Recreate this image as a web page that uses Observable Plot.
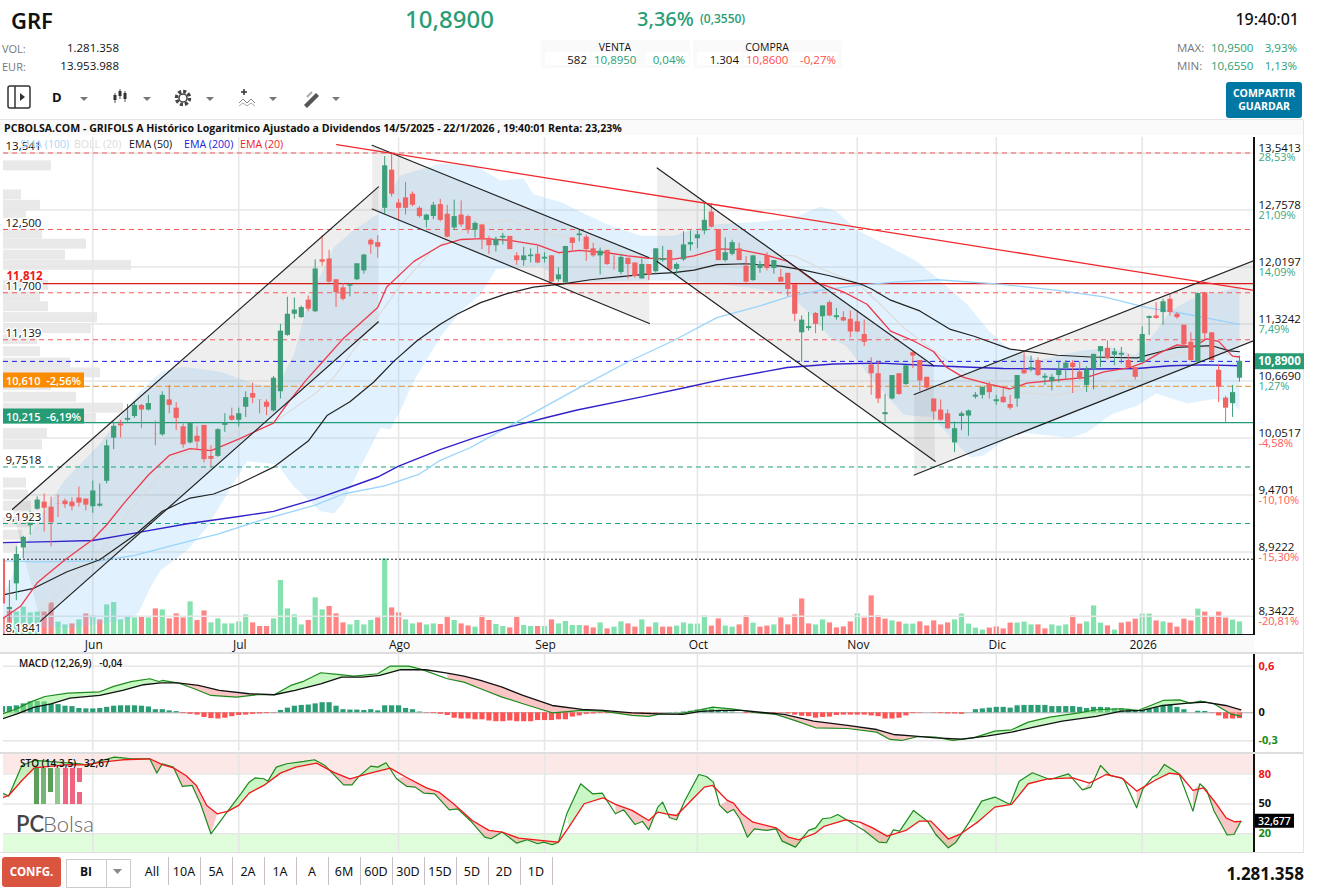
<!DOCTYPE html>
<html lang="es">
<head>
<meta charset="utf-8">
<title>GRF</title>
<script src="https://cdn.jsdelivr.net/npm/d3@7"></script>
<script src="https://cdn.jsdelivr.net/npm/@observablehq/plot@0.6"></script>
<style>
html,body{margin:0;padding:0;background:#fff;width:1317px;height:893px;overflow:hidden;font-family:"Open Sans",sans-serif;}
#root{position:relative;width:1317px;height:893px;overflow:hidden;}
.t{position:absolute;white-space:pre;line-height:1;}
.b{position:absolute;}
svg{position:absolute;left:0;}
</style>
</head>
<body>
<div id="root"></div>
<script>
// ---------- candle data (o,h,l,c, bar by bar) ----------
const opens=[8.85,8.40,8.63,8.96,9.17,9.33,9.40,9.35,9.38,9.41,9.40,9.44,9.43,9.355,9.36,9.607,10.05,10.20,10.24,10.28,10.40,10.35,10.09,10.085,10.46,10.37,10.17,10.00,10.07,10.185,9.86,9.86,10.185,10.285,10.24,10.38,10.53,10.46,10.435,10.34,10.55,11.19,11.44,11.40,11.61,11.47,12.11,12.12,11.86,11.76,11.78,11.86,11.97,12.36,12.33,12.78,13.30,12.85,12.92,12.97,12.78,12.62,12.67,12.83,12.70,12.52,12.69,12.67,12.49,12.56,12.38,12.29,12.39,12.41,12.16,12.10,12.15,12.18,12.12,12.16,11.86,11.82,12.39,12.42,12.40,12.25,12.16,12.23,12.06,11.95,12.13,12.07,11.87,12.05,11.96,12.10,12.23,11.99,12.11,12.30,12.38,12.48,12.73,12.50,12.10,12.18,12.25,12.03,11.85,12.00,12.16,12.00,11.89,11.94,11.80,11.22,11.27,11.45,11.41,11.58,11.40,11.40,11.38,11.35,11.20,10.85,10.75,10.30,10.47,10.75,10.63,10.99,10.90,10.71,10.47,10.35,10.31,10.00,10.28,10.285,10.49,10.51,10.63,10.44,10.49,10.41,10.47,10.79,10.80,10.90,10.70,10.66,10.73,10.81,10.87,10.77,10.62,10.80,11.00,11.04,10.96,10.96,10.90,10.82,10.88,11.39,11.42,11.46,11.62,11.44,11.31,11.11,10.88,11.70,11.22,10.79,10.48,10.42,10.70];
const highs=[8.85,8.66,8.97,9.07,9.31,9.45,9.48,9.45,9.47,9.43,9.44,9.55,9.43,9.61,9.58,10.03,10.22,10.24,10.41,10.44,10.41,10.51,10.23,10.55,10.62,10.43,10.20,10.21,10.17,10.185,9.97,10.15,10.31,10.37,10.37,10.55,10.645,10.46,10.46,10.72,11.32,11.645,11.635,11.54,11.66,12.11,12.42,12.23,11.86,11.81,11.81,12.06,12.18,12.38,12.42,13.49,13.52,12.90,13.13,13.00,12.80,12.70,12.86,12.90,12.82,12.89,12.88,12.69,12.60,12.56,12.41,12.40,12.45,12.41,12.20,12.27,12.25,12.28,12.20,12.16,12.01,12.28,12.39,12.50,12.43,12.32,12.26,12.23,12.16,12.18,12.13,12.07,12.12,12.05,12.25,12.28,12.23,12.07,12.47,12.48,12.48,12.84,12.84,12.50,12.39,12.36,12.32,12.15,12.16,12.09,12.20,12.10,11.99,11.94,11.80,11.42,11.46,11.46,11.54,11.60,11.51,11.47,11.48,11.48,11.37,10.93,10.89,10.52,10.73,10.75,10.84,11.00,10.90,10.71,10.47,10.46,10.35,10.22,10.33,10.35,10.54,10.60,10.655,10.51,10.58,10.51,10.73,10.99,10.95,10.93,10.75,10.74,10.88,10.90,10.90,10.88,10.83,10.97,11.06,11.13,11.04,11.05,10.97,10.82,11.29,11.42,11.58,11.62,11.68,11.46,11.31,11.22,11.70,11.70,11.22,10.85,10.50,10.62,10.95];
const lows=[8.20,8.25,8.48,8.86,9.08,9.32,9.11,8.97,9.25,9.34,9.315,9.35,9.315,9.29,9.35,9.58,9.93,10.05,10.22,10.26,10.15,10.34,9.97,10.07,10.31,10.13,9.945,9.99,9.92,9.795,9.75,9.85,10.11,10.23,10.17,10.27,10.42,10.31,10.29,10.33,10.47,11.18,11.38,11.39,11.47,11.46,12.03,11.82,11.52,11.60,11.65,11.85,11.93,12.18,12.13,12.70,12.93,12.62,12.69,12.80,12.65,12.52,12.63,12.60,12.39,12.49,12.53,12.44,12.39,12.24,12.18,12.21,12.30,12.24,12.04,12.03,12.07,12.06,12.07,11.83,11.83,11.82,12.23,12.34,12.09,12.14,11.92,12.04,11.98,11.92,11.87,11.88,11.87,11.85,11.92,12.08,11.97,11.92,12.09,12.22,12.25,12.43,12.52,12.10,12.08,12.16,12.10,11.82,11.84,11.94,11.97,11.93,11.83,11.65,11.35,10.88,11.24,11.21,11.24,11.41,11.37,11.35,11.16,11.22,11.06,10.51,10.42,10.22,10.46,10.51,10.62,10.81,10.55,10.58,10.24,10.23,10.14,9.90,10.13,10.07,10.47,10.47,10.47,10.40,10.42,10.35,10.38,10.74,10.77,10.72,10.62,10.56,10.65,10.69,10.53,10.68,10.54,10.57,10.82,10.91,10.84,10.86,10.81,10.68,10.87,11.19,11.38,11.31,11.42,11.38,11.06,10.89,10.87,11.14,10.89,10.43,10.21,10.27,10.655];
const closes=[8.45,8.42,8.90,9.06,9.20,9.42,9.34,9.20,9.37,9.375,9.355,9.39,9.37,9.51,9.38,9.97,10.175,10.18,10.26,10.40,10.35,10.42,10.08,10.51,10.40,10.26,9.98,10.21,10.01,9.827,9.83,10.14,10.21,10.24,10.31,10.485,10.48,10.45,10.38,10.70,11.24,11.44,11.49,11.52,11.50,11.995,12.08,11.83,11.70,11.62,11.80,12.06,12.17,12.30,12.27,13.36,12.97,12.78,12.78,12.82,12.67,12.69,12.82,12.62,12.40,12.67,12.56,12.49,12.58,12.37,12.29,12.37,12.40,12.24,12.10,12.16,12.17,12.07,12.13,11.83,11.92,12.28,12.32,12.43,12.24,12.16,12.22,12.05,12.05,12.14,12.05,11.90,12.05,11.92,12.25,12.11,11.98,12.05,12.30,12.33,12.43,12.62,12.53,12.10,12.20,12.33,12.10,11.83,12.16,12.05,12.00,12.10,11.83,11.74,11.44,11.37,11.28,11.32,11.54,11.42,11.41,11.36,11.23,11.23,11.11,10.75,10.47,10.31,10.73,10.52,10.84,10.95,10.67,10.59,10.33,10.24,10.15,10.15,10.31,10.34,10.50,10.60,10.54,10.45,10.43,10.37,10.73,10.75,10.82,10.73,10.71,10.71,10.79,10.87,10.82,10.69,10.79,10.97,11.06,10.92,11.00,10.97,10.82,10.71,11.20,11.40,11.39,11.59,11.46,11.40,11.08,10.90,11.69,11.21,10.90,10.60,10.37,10.54,10.89];
// volumes in thousands
const volumes=[870,1170,1120,1370,1080,1120,1120,1580,620,480,530,730,1030,930,730,1480,1600,730,900,830,900,830,1280,1230,780,1030,830,1630,700,1180,580,780,530,530,630,980,580,400,400,780,2700,1280,980,480,700,1830,1230,1400,1030,580,480,700,480,700,830,3780,1330,1080,730,530,580,480,530,500,900,700,530,430,370,930,700,500,400,330,900,450,400,400,400,730,530,650,450,450,430,330,580,280,370,630,530,370,730,370,580,370,370,420,580,520,520,930,420,780,420,370,480,930,570,370,420,480,830,480,980,1780,530,480,730,580,330,380,630,1030,820,1930,930,770,680,620,520,520,630,430,680,480,580,730,1020,520,320,220,320,380,280,570,570,620,480,480,280,480,420,480,930,520,630,1430,570,430,220,570,620,770,1020,1020,680,630,570,370,770,680,1270,1120,880,1120,820,720,630];

// ---------- overlays: [bar index, price] ----------
const ema20=[[0,8.32],[2.6,8.43],[5,8.64],[9,8.85],[13,9.04],[15,9.18],[17.5,9.39],[21,9.67],[24,9.87],[27,9.94],[30,9.92],[34,10.04],[39,10.21],[41,10.42],[43.6,10.67],[46,10.88],[49,11.15],[54,11.52],[55.3,11.77],[59.2,12.09],[63,12.29],[66,12.37],[69,12.38],[73,12.36],[77,12.30],[80,12.20],[83,12.23],[87,12.20],[90,12.16],[93,12.13],[96.6,12.12],[99.5,12.16],[103,12.25],[106,12.24],[109.5,12.18],[113,12.09],[117,11.83],[121,11.71],[124.4,11.56],[126.3,11.38],[127.8,11.24],[131,11.13],[134,11.0],[135.7,10.83],[138.3,10.71],[141.7,10.64],[145,10.58],[147.4,10.645],[151.8,10.68],[156,10.71],[158.5,10.77],[162.2,10.82],[164,10.87],[166.6,10.99],[169,11.08],[171.4,11.06],[173.3,11.15],[175,11.12],[177,10.95],[178,10.94]];
const ema50=[[0,8.53],[4.5,8.59],[9.3,8.74],[14,8.85],[19,9.08],[23,9.31],[27,9.44],[30.4,9.48],[34,9.58],[39,9.75],[44,10.02],[46.7,10.29],[50,10.44],[53.4,10.655],[56.3,10.89],[59.7,11.13],[63,11.32],[65.4,11.44],[68.8,11.58],[72.6,11.69],[76.4,11.77],[80.7,11.81],[84.6,11.86],[89,11.90],[92.7,11.93],[96.6,11.95],[99.5,11.98],[102.8,12.05],[107,12.06],[112,12.03],[115.3,11.98],[119,11.91],[123.4,11.81],[125,11.75],[127.8,11.61],[132,11.48],[136.4,11.26],[139.8,11.18],[145,11.03],[151.8,10.96],[156.6,10.94],[163.3,10.93],[166.6,11.0],[169,11.05],[174,11.07],[176.6,11.01],[178,11.0]];
const ema200=[[0,9.01],[7,9.02],[13,9.03],[19,9.10],[26.6,9.19],[34,9.26],[39,9.31],[45,9.43],[50,9.55],[54,9.65],[57,9.76],[63,9.93],[67.8,10.05],[73,10.17],[78.3,10.27],[82.7,10.35],[91.8,10.49],[98.5,10.60],[103.8,10.69],[112.9,10.82],[119.6,10.86],[126.3,10.87],[134,10.84],[144,10.81],[153.7,10.80],[163.3,10.81],[168,10.84],[173,10.85],[178,10.84]];
const sma100=[[0,8.84],[5,8.83],[14,8.84],[19,8.89],[26.6,9.02],[31,9.09],[37,9.22],[45,9.37],[49,9.48],[55,9.56],[60,9.68],[63,9.82],[67.3,9.95],[73,10.18],[77.4,10.36],[83.6,10.62],[89.9,10.88],[96.6,11.13],[102.8,11.40],[109,11.54],[113.4,11.66],[117.7,11.73],[123,11.79],[128.3,11.83],[134.5,11.86],[143,11.81],[151.8,11.73],[158.5,11.65],[164.7,11.52],[170.5,11.44],[178,11.32]];
const bollMid=[[5.5,8.39],[14,8.91],[18,9.29],[25,9.87],[29.5,9.94],[34,10.14],[39.5,10.24],[45,10.53],[47.7,10.71],[52.5,11.24],[57,11.76],[61.6,12.21],[65.4,12.45],[69,12.58],[73,12.62],[76.4,12.53],[80,12.42],[83.6,12.36],[89,12.20],[93,12.13],[98.5,12.13],[102.8,12.18],[108.6,12.18],[114,12.16],[118,11.99],[123,11.82],[126.3,11.56],[129.7,11.28],[134.5,10.98],[139.3,10.71],[145,10.55],[151.8,10.51],[157.5,10.62],[163.3,10.75],[168,10.95],[173,11.05],[178,10.93]];
const bollUpper=[[0,8.5],[4.5,9.16],[9,9.62],[14,9.99],[20,10.57],[23,10.78],[26,10.83],[31.5,10.77],[36,10.64],[39.5,10.60],[42,10.98],[44,11.60],[47.7,12.27],[50.5,12.49],[54,12.70],[57.3,13.23],[63,13.39],[67.8,13.38],[71.6,13.16],[75,13.18],[76.4,12.97],[80.7,12.85],[83,12.74],[87,12.57],[91.8,12.42],[96.6,12.42],[99.5,12.50],[102.8,12.57],[108.6,12.60],[113.4,12.64],[117.7,12.80],[120,12.74],[123,12.49],[126.3,12.34],[131.6,12.09],[135.5,11.81],[138.8,11.56],[142,11.24],[145,11.03],[149,10.90],[155,11.01],[159.5,11.05],[163,10.96],[166,11.24],[168,11.48],[171,11.62],[175,11.71],[178,11.77]];
const bollLower=[[0,8.33],[5,8.25],[10,8.24],[14,8.28],[18,8.30],[19.6,8.375],[21.3,8.60],[22.7,8.75],[26.6,8.94],[29.5,9.16],[32.3,9.48],[35.2,9.81],[39.5,9.78],[42,9.55],[45.8,9.31],[47.7,9.29],[49,9.39],[51.5,9.75],[54.4,10.16],[55.8,10.14],[57.3,10.35],[59.2,10.67],[63,11.17],[66,11.48],[68.8,11.68],[71,11.99],[77.4,12.03],[81,11.83],[91.8,11.85],[97.5,11.85],[102.8,11.81],[108.6,11.75],[113.4,11.66],[116,11.46],[119,11.17],[121.5,11.06],[125,10.70],[127.8,10.46],[129.7,10.30],[134,10.27],[136.9,10.02],[139.3,9.85],[141.2,9.87],[144,10.02],[146.5,10.11],[153.7,10.055],[156,10.11],[159.5,10.30],[163.3,10.40],[166,10.53],[170.5,10.42],[174.3,10.47],[176.7,10.44],[178,10.35]];

// ---------- trend channels and lines: [bar index, price] ----------
const channelUp1={upper:[[1.45,9.33],[54.1,13.07]],lower:[[5.47,8.30],[54.1,11.35]]};
const channelDown2={upper:[[53.2,13.65],[93,12.14]],lower:[[53.2,12.77],[93.1,11.33]]};
const channelDown3={upper:[[94.2,13.33],[134,10.84]],lower:[[94.2,12.09],[134.2,9.81]]};
const channelUp4={upper:[[131.2,10.52],[180.1,12.10]],lower:[[131.2,9.67],[180.1,11.13]]};
const redTrend=[[48.1,13.66],[180.1,11.73]];

// ---------- horizontal levels ----------
const dashedRed=[13.541,12.5,11.7,11.139];
const dashedGreen=[9.7518,9.1923];
const levelBlue=10.89, levelOrange=10.61, levelGreen=10.215, levelRed=11.812, levelDotted=8.855;

// ---------- axes ----------
const priceTicks=[13.5413,12.7578,12.0197,11.3242,10.669,10.0517,9.4701,8.9222,8.3422];
const priceLabels=["13,5413","12,7578","12,0197","11,3242","10,6690","10,0517","9,4701","8,9222","8,3422"];
const pctLabels=["28,53%","21,09%","14,09%","7,49%","1,27%","-4,58%","-10,10%","-15,30%","-20,81%"];
const leftPrices=[13.541,12.5,11.7,11.139,9.7518,9.1923,8.1841];
const leftLabels=["13,541","12,500","11,700","11,139","9,7518","9,1923","8,1841"];
const monthBars=[13,34,57,78,100,123,143,164];
const monthLabels=["Jun","Jul","Ago","Sep","Oct","Nov","Dic","2026"];

// ---------- volume profile at the left: [price, volume] ----------
const profile=[[13.36,48],[12.96,18],[12.82,37],[12.71,23],[12.44,39],[12.31,83],[12.17,62],[12.04,128],[11.79,45],[11.65,37],[11.53,45],[11.40,94],[11.27,88],[11.14,34],[11.0,37],[10.87,67],[10.76,97],[10.62,48],[10.49,73],[10.37,120],[10.26,93],[10.10,44],[9.98,39],[9.59,23],[9.47,25],[9.36,28],[9.20,27],[9.08,19],[8.97,15]];

// ---------- MACD ----------
const macdHist=[.08,.08,.09,.115,.14,.145,.14,.11,.105,.085,.08,.055,.05,.05,.055,.07,.085,.09,.09,.09,.085,.075,.04,.04,.025,.015,-.01,-.02,-.03,-.06,-.075,-.08,-.07,-.05,-.035,-.03,-.02,-.015,-.01,-.005,.03,.06,.085,.095,.10,.115,.13,.13,.085,.04,.035,.035,.03,.04,.025,.09,.09,.09,.055,.04,.01,-.005,-.01,-.02,-.035,-.07,-.08,-.08,-.09,-.09,-.105,-.115,-.115,-.105,-.115,-.115,-.115,-.10,-.10,-.10,-.09,-.09,-.055,-.04,-.02,-.015,-.01,-.01,-.005,-.015,-.015,-.015,-.01,-.005,-.005,-.002,.003,.005,.01,.02,.035,.045,.05,.02,.015,.01,0,-.01,-.01,-.01,-.015,-.015,-.005,-.015,-.03,-.045,-.05,-.07,-.06,-.055,-.035,-.03,-.03,-.03,-.03,-.04,-.05,-.08,-.08,-.07,-.04,-.01,-.005,0,-.005,-.01,-.015,-.015,-.02,0,.04,.05,.06,.07,.07,.06,.09,.095,.095,.095,.095,.08,.08,.08,.08,.07,.055,.07,.07,.065,.05,.05,.045,.02,.03,.045,.065,.095,.095,.07,.04,0,.02,.017,-.005,-.04,-.08,-.08,-.075];
const macdLine=[[0,-.013],[2.1,.052],[4,.137],[6.1,.21],[9.4,.253],[14,.27],[16,.34],[18.5,.40],[21.2,.438],[22.5,.403],[23,.416],[25.2,.386],[27.6,.309],[30,.223],[33.7,.202],[36.7,.232],[39.1,.232],[41.5,.352],[43.4,.408],[45.8,.515],[48.2,.494],[50.6,.472],[54,.502],[55.8,.601],[58.5,.601],[60.3,.558],[64,.438],[66.4,.395],[68.8,.309],[71.9,.202],[74.9,.116],[79.1,0],[83.4,.03],[86.4,.021],[90.6,-.034],[93,-.047],[94.5,-.017],[97.3,-.013],[100.4,.039],[102.2,.073],[105.2,.047],[108.2,.004],[111.3,-.021],[114.3,-.107],[117,-.193],[121.6,-.202],[125.8,-.249],[127.7,-.343],[129.4,-.356],[131.8,-.305],[134.3,-.313],[136.7,-.356],[139.7,-.322],[142.8,-.236],[145.2,-.219],[147.6,-.120],[150.7,-.056],[154.9,0],[157.4,.039],[161,.052],[163.4,.030],[167,.159],[169.4,.167],[170.9,.124],[172.4,.150],[174.3,.116],[176.7,-.013],[178.2,-.043]];
const macdSignal=[[0,-.077],[2.1,-.013],[4.6,.073],[7,.116],[9.7,.189],[14,.223],[17.3,.288],[20.3,.361],[22.8,.386],[25.2,.386],[28.2,.352],[31.2,.288],[35.5,.245],[39.1,.232],[42.1,.288],[45.8,.373],[48.8,.459],[51.8,.459],[54.3,.481],[57.3,.554],[60.9,.554],[64,.511],[66.4,.472],[68.8,.416],[71.9,.330],[74.9,.223],[79.1,.094],[83.4,.043],[86.4,.030],[90.6,0],[94.5,-.013],[97.9,-.021],[100.4,.017],[103.4,.03],[106.4,.03],[109.4,.004],[112.5,-.021],[116.7,-.107],[121.6,-.163],[125.8,-.215],[128.2,-.279],[131.3,-.30],[134.3,-.322],[138,-.339],[141.6,-.30],[145.2,-.249],[148.9,-.176],[152.5,-.107],[157.4,-.047],[161,.021],[164,.03],[167,.094],[170.6,.124],[173,.137],[176,.094],[178.2,.039]];
const macdGreenSpans=[[0,25.2],[39.1,61],[97,108],[139.7,173]];
const macdRedSpans=[[25.2,39.1],[61,97],[108,139.7],[173,178.3]];

// ---------- Stochastic ----------
const stoK=[[0,60.9],[.9,57.9],[2.8,88.7],[4.6,93.7],[11.2,90.4],[12.4,88.7],[14.3,93.7],[16.1,97.1],[17.3,96.4],[18.5,95.4],[21.2,95.4],[22.2,81],[23,90.4],[24.6,87],[25.9,67.6],[27.3,68.6],[28.5,50.2],[30,20],[32.5,43.5],[34.3,60.2],[35.5,71.9],[36.4,76.3],[37.6,75.3],[38.2,72.9],[39.4,87],[40.9,90.4],[43.4,92.7],[44.9,94.4],[46.4,88.7],[49.1,69.2],[50.3,69.2],[51.2,77],[53,88],[54,87],[55.2,91.4],[56.7,75.3],[58.2,67.6],[59.4,66.9],[60.6,60.9],[62.2,60.2],[64.3,44.1],[65.5,45.1],[67.3,33.4],[69.4,16.6],[70.3,15],[71.9,21.7],[74,10.6],[75.5,14],[77,10],[77.9,11.6],[79.1,9],[80,11.6],[81.2,40.1],[83.2,70.3],[84.9,60.2],[86.3,60.9],[88.2,40.1],[89.4,44.1],[91,29.4],[92.1,32.4],[93,24],[94.3,46.8],[95,51.8],[96,36.1],[97,34.1],[98.2,53.5],[100.2,79.6],[101.3,77.6],[102.3,71.9],[103.2,48.5],[104.3,41.1],[105.2,44.5],[106.1,35.1],[107.2,16.6],[108.2,25],[110,23.4],[111.3,25],[112.2,12.6],[114.1,6.6],[116,23.4],[117,26],[118,35.1],[119.2,36.1],[120.2,39.4],[121.4,34.4],[124,23.4],[126.1,11.6],[127.2,11],[128.2,24],[129.1,22.7],[131.1,43.5],[133.1,32.7],[134.3,19.3],[136.1,5.9],[137.2,11.6],[139.1,31.7],[140.9,52.8],[142.8,56.9],[145,49.5],[146.3,72.9],[148.2,81.3],[150.7,74.6],[153.4,80.3],[155.4,64.2],[156.6,66.9],[158,88.7],[159.4,78.6],[161.3,75.3],[163.2,46.1],[164.1,65.2],[165.5,77],[166.2,79.6],[167.2,89.7],[169.3,80.3],[171.3,42.8],[172.3,70.3],[173.3,63.6],[174.3,43.5],[176.2,19],[177.2,19.3],[178.2,32.7]];
const stoD=[[0,56.2],[.9,58.5],[2.8,73.6],[4.6,86.3],[6.4,87.6],[9.4,89.6],[11.8,89.3],[14.3,92],[17.3,94.4],[21.2,95.4],[23,89.6],[24.6,86.3],[26.4,78.6],[27.9,68.6],[29.4,48.5],[30.9,40.1],[32.5,42.8],[34,48.5],[35.5,60.9],[37.6,68.6],[40,81],[42.2,87],[45.2,91],[47.6,82],[50,75.3],[52.5,80.3],[55.8,86],[57.9,77.6],[61,66.2],[62.8,61.9],[64.9,50.2],[67.6,33.4],[70,23.4],[71.9,21.7],[74.3,15.7],[78.5,12.7],[80,11.6],[81.5,26.7],[83.7,50.2],[86.4,56.2],[88.2,49.5],[90.6,43.5],[93,33.4],[94.3,41.8],[95.5,40.1],[97,38.4],[99.1,53.5],[101,66.9],[102.2,68.6],[104.3,53.5],[105.2,50.8],[106.4,40.1],[108,31.7],[111.3,26],[113.1,16.6],[114.6,14],[117,20.7],[118.2,27.4],[121.3,34.1],[123.4,31.7],[125.2,26],[127.3,17.7],[130,23.4],[131.9,32.7],[133.6,32.7],[136.1,14.7],[137.9,20],[140.3,31.7],[142.8,46.8],[145.2,49.5],[147.6,70.3],[150.4,75.3],[154,76.3],[156.4,71],[158.8,79.6],[161,76.3],[163.2,62.9],[165.8,73.6],[167.9,81],[169.4,79.6],[171.3,63.6],[172.8,66.2],[174.3,53.5],[176.1,35.8],[177.3,32.1],[178.2,32.4]];
const stoGreenSpans=[[.9,21.2],[32,46],[51.2,56],[81,87],[94.3,95.5],[98.2,103.2],[116,122],[128.2,133.1],[138.5,145.2],[145.2,155],[157.5,162],[165,170],[172.3,173.3]];
const stoRedSpans=[[0,.9],[21.2,32],[46,51.2],[56,81],[87,94.3],[95.5,98.2],[103.2,116],[122,128.2],[133.1,138.5],[155,157.5],[162,165],[170,172.3],[173.3,178.2]];

// ---------- helpers ----------
const root=document.getElementById("root");
const FONT='"Open Sans",sans-serif';
const GREEN="#3f9e7a", RED="#f26464", TXT_GREEN="#2a9d74", TXT_RED="#ff4d4d";
const pts=a=>a.map(([i,v])=>({i,v}));
const bars=d3.range(closes.length).map(i=>({i,o:opens[i],h:highs[i],l:lows[i],c:closes[i],vol:volumes[i],prev:i?closes[i-1]:closes[i]+1}));
const xScale={domain:[0,178],range:[1.95,1239],axis:null};
const frame={width:1317,marginLeft:3,marginRight:63,marginTop:0,marginBottom:0};
const style={background:"transparent",overflow:"visible",fontFamily:FONT};
function add(top,opts){
  const svg=Plot.plot({...frame,style,x:xScale,color:{type:"identity"},...opts});
  svg.style.position="absolute";svg.style.top=top+"px";svg.style.left="0";
  root.appendChild(svg);return svg;
}
function T(text,x,y,o={}){
  const d=document.createElement("div");d.className="t";d.textContent=text;
  d.style.fontSize=(o.s||11)+"px";d.style.fontWeight=o.w||400;d.style.color=o.c||"#111";
  d.style.fontFamily=o.f||FONT;
  const ax=o.a==="end"?"-100%":o.a==="middle"?"-50%":"0";
  d.style.left=x+"px";d.style.top=y+"px";d.style.transform=`translate(${ax},-50%)`;
  if(o.bg){d.style.background=o.bg;d.style.padding=o.p||"1px 2px";}
  root.appendChild(d);return d;
}
function B(x,y,w,h,bg,extra={}){
  const d=document.createElement("div");d.className="b";
  Object.assign(d.style,{left:x+"px",top:y+"px",width:w+"px",height:h+"px",background:bg},extra);
  root.appendChild(d);return d;
}
function spansToPolys(a,b,spans){
  const out=[];
  spans.forEach(([s,e],k)=>{
    a.filter(d=>d[0]>=s&&d[0]<=e).forEach(d=>out.push({i:d[0],v:d[1],k}));
    b.filter(d=>d[0]>=s&&d[0]<=e).reverse().forEach(d=>out.push({i:d[0],v:d[1],k}));
  });
  return out;
}

// ---------- page background pieces ----------
B(0,120,1303,15,"#fafafa");
B(0,635,1254,17,"#fafafa");
B(1303,120,1,733,"#e4e4e4");
B(0,119,1303,1,"#e4e4e4");

// ---------- price scale shared by layers ----------
const yMain={type:"log",domain:[8.185,13.762],range:[497,0],axis:null};

// volume profile layer
add(137,{height:497,x:{domain:[0,1],range:[3,4],axis:null},y:yMain,marks:[
  Plot.rect(profile,{x1:()=>0,x2:d=>d[1]/1,y1:d=>d[0]*.9948,y2:d=>d[0]*1.0052,fill:"#e9e9e9"})
]}).setAttribute("data-layer","profile");

// volume layer
add(514,{height:120,y:{domain:[0,6000],range:[120,0],axis:null},marks:[
  Plot.ruleX(bars,{x:"i",y1:()=>0,y2:"vol",strokeWidth:5.2,stroke:d=>d.c>=d.prev?"#84e2ae":"#ff8484",clip:"frame"})
]}).setAttribute("data-layer","volume");

// main layer
const poly=ch=>[...pts(ch.upper),...pts(ch.lower).reverse()];
const channels=[channelUp1,channelDown2,channelDown3,channelUp4];
const hg=priceTicks;
add(137,{height:497,y:yMain,marks:[
  Plot.ruleY(hg,{stroke:"#e6e6e6",strokeWidth:1.5}),
  Plot.ruleX(monthBars,{stroke:"#e6e6e6",strokeWidth:1.5}),
  Plot.line([...pts(bollUpper),...pts(bollLower).reverse()],{x:"i",y:"v",fill:"rgba(130,200,250,0.24)",stroke:"none",clip:"frame"}),
  ...channels.map(ch=>Plot.line(poly(ch),{x:"i",y:"v",fill:"rgba(150,150,150,0.16)",stroke:"none",clip:"frame"})),
  Plot.line(pts(bollMid),{x:"i",y:"v",stroke:"#dcdcdc",strokeWidth:1.2,clip:"frame"}),
  Plot.ruleY(dashedRed,{stroke:"#f25c5c",strokeWidth:1,strokeDasharray:"5,4"}),
  Plot.ruleY(dashedGreen,{stroke:"#1aa37a",strokeWidth:1,strokeDasharray:"5,4"}),
  Plot.ruleY([levelBlue],{stroke:"#1a1aee",strokeWidth:1,strokeDasharray:"5,4"}),
  Plot.ruleY([levelOrange],{stroke:"#e8912a",strokeWidth:1,strokeDasharray:"6,3"}),
  Plot.ruleY([levelGreen],{stroke:"#1f9d78",strokeWidth:1.3}),
  Plot.ruleY([levelDotted],{stroke:"#222",strokeWidth:1,strokeDasharray:"2,2"}),
  Plot.ruleY([levelRed],{x1:()=>5.9,x2:()=>180.1,stroke:"#d61a1a",strokeWidth:1.2}),
  Plot.line(pts(sma100),{x:"i",y:"v",stroke:"#9ad4fb",strokeWidth:1.3,clip:"frame"}),
  Plot.line(pts(ema200),{x:"i",y:"v",stroke:"#3322cc",strokeWidth:1.4,clip:"frame"}),
  Plot.line(pts(ema50),{x:"i",y:"v",stroke:"#222",strokeWidth:1.2,clip:"frame"}),
  Plot.line(pts(ema20),{x:"i",y:"v",stroke:"#ee3a4c",strokeWidth:1.3,clip:"frame"}),
  Plot.ruleX(bars,{x:"i",y1:"l",y2:"h",stroke:d=>d.c>=d.o?GREEN:RED,strokeWidth:1,clip:"frame"}),
  Plot.ruleX(bars,{x:"i",y1:"o",y2:d=>Math.abs(d.c-d.o)<.012?d.c+.012:d.c,stroke:d=>d.c>=d.o?GREEN:RED,strokeWidth:5.2,clip:"frame"}),
  ...channels.flatMap(ch=>[
    Plot.line(pts(ch.upper),{x:"i",y:"v",stroke:"#222",strokeWidth:1.2,clip:"frame"}),
    Plot.line(pts(ch.lower),{x:"i",y:"v",stroke:"#222",strokeWidth:1.2,clip:"frame"})]),
  Plot.line(pts(redTrend),{x:"i",y:"v",stroke:"#f0282c",strokeWidth:1.3,clip:"frame"}),
  Plot.text(priceTicks,{y:d=>d,text:(d,i)=>priceLabels[i],frameAnchor:"right",textAnchor:"start",dx:4,dy:-5,fontSize:11.5,fill:"#111",fontWeight:400}),
  Plot.text(priceTicks,{y:d=>d,text:(d,i)=>pctLabels[i],frameAnchor:"right",textAnchor:"start",dx:4,dy:5,fontSize:11,fill:(d,i)=>pctLabels[i][0]==="-"?"#ff5a5a":"#3ba883"}),
  Plot.text(leftPrices,{y:d=>d,text:(d,i)=>leftLabels[i],frameAnchor:"left",textAnchor:"start",dx:2,dy:-6.5,fontSize:11.5,fill:"#111",stroke:"#fff",strokeWidth:3}),
  Plot.text([levelRed],{y:d=>d,text:()=>"11,812",frameAnchor:"left",textAnchor:"start",dx:3,dy:-7,fontSize:11.5,fontWeight:700,fill:"#f01818"}),
  Plot.text(monthBars,{x:d=>d,y:()=>8.185,text:(d,i)=>monthLabels[i],dy:10.5,dx:1,fontSize:i=>12,fill:"#111",fontWeight:(d,i)=>monthLabels[i]==="2026"?700:400})
]}).setAttribute("data-layer","main");

// MACD
const macdBars=macdHist.map((v,i)=>({i,v}));
add(654,{height:97,y:{domain:[-.498,.75],range:[97,0],axis:null},marks:[
  Plot.ruleY([.6,-.36],{stroke:"#e6e6e6",strokeWidth:1.5}),
  Plot.ruleX(monthBars,{stroke:"#e6e6e6",strokeWidth:1.5}),
  Plot.ruleY([0],{stroke:"#aaaaaa",strokeWidth:1}),
  Plot.ruleX(macdBars,{x:"i",y1:()=>0,y2:"v",stroke:d=>d.v>=0?"#2a9d74":"#ff5252",strokeWidth:5.2,clip:"frame"}),
  Plot.line(spansToPolys(macdLine,macdSignal,macdGreenSpans),{x:"i",y:"v",z:"k",fill:"rgba(150,240,140,0.55)",stroke:"none",clip:"frame"}),
  Plot.line(spansToPolys(macdLine,macdSignal,macdRedSpans),{x:"i",y:"v",z:"k",fill:"rgba(250,150,150,0.55)",stroke:"none",clip:"frame"}),
  Plot.line(pts(macdLine),{x:"i",y:"v",stroke:"#1c8a1c",strokeWidth:1.2,clip:"frame"}),
  Plot.line(pts(macdSignal),{x:"i",y:"v",stroke:"#111",strokeWidth:1.3,clip:"frame"}),
  Plot.text([{v:.6,t:"0,6",c:"#f01818"},{v:0,t:"0",c:"#111"},{v:-.36,t:"-0,3",c:"#168a16"}],{y:"v",text:"t",fill:"c",frameAnchor:"right",textAnchor:"start",dx:4,fontSize:11,fontWeight:700})
]}).setAttribute("data-layer","macd");

// Stochastic
add(754,{height:98,y:{domain:[1.2,99.7],range:[98,0],axis:null},marks:[
  Plot.rect([0],{x1:()=>-2,x2:()=>181,y1:()=>80,y2:()=>99.7,fill:"#fde8e8",clip:"frame"}),
  Plot.rect([0],{x1:()=>-2,x2:()=>181,y1:()=>1.2,y2:()=>20,fill:"#dffcdb",clip:"frame"}),
  Plot.ruleY([80,50,20],{stroke:"#e6e6e6",strokeWidth:1.5}),
  Plot.ruleX(monthBars,{stroke:"#e6e6e6",strokeWidth:1.5}),
  Plot.line(spansToPolys(stoK,stoD,stoGreenSpans),{x:"i",y:"v",z:"k",fill:"rgba(150,240,140,0.5)",stroke:"none",clip:"frame"}),
  Plot.line(spansToPolys(stoK,stoD,stoRedSpans),{x:"i",y:"v",z:"k",fill:"rgba(240,130,130,0.45)",stroke:"none",clip:"frame"}),
  Plot.line(pts(stoK),{x:"i",y:"v",stroke:"#1c8a1c",strokeWidth:1.2,clip:"frame"}),
  Plot.line(pts(stoD),{x:"i",y:"v",stroke:"#f01818",strokeWidth:1.3,clip:"frame"}),
  Plot.text([{v:80,t:"80",c:"#f01818"},{v:50,t:"50",c:"#111"},{v:20,t:"20",c:"#168a16"}],{y:"v",text:"t",fill:"c",frameAnchor:"right",textAnchor:"start",dx:4,fontSize:11,fontWeight:700})
]}).setAttribute("data-layer","sto");

// ---------- axis frame lines ----------
B(3,633.5,1251,1.5,"#111");
B(1253,137,1.5,498,"#111");
B(1253,654,1.5,198,"#111");
B(0,652,1303,2,"#dedede");
B(0,752,1303,2,"#dedede");
B(0,852,1303,1,"#dedede");

// ---------- title and legends ----------
T("PCBOLSA.COM - GRIFOLS A Histórico Logaritmico Ajustado a Dividendos 14/5/2025 - 22/1/2026 , 19:40:01 Renta: 23,23%",4,127.5,{s:10.6,w:700});
T("SMA (100)",20,143.5,{s:10.6,c:"#a5d8fa"});
T("BOLL (20)",74,143.5,{s:10.6,c:"#dddddd"});
T("EMA (50)",129,143.5,{s:10.6,c:"#111"});
T("EMA (200)",184,143.5,{s:10.6,c:"#2222dd"});
T("EMA (20)",240,143.5,{s:10.6,c:"#ee1c2c"});
T("10,610  -2,56%",3,380,{s:11,w:600,c:"#fff",bg:"#fb8c00",p:"2px 3px"});
T("10,215  -6,19%",3,416,{s:11,w:600,c:"#fff",bg:"#279b74",p:"2px 3px"});
T("10,8900",1255,361,{s:11.5,w:700,c:"#fff",bg:"#279b74",p:"2px 3px"});
T("32,677",1255,820.5,{s:10.5,w:600,c:"#fff",bg:"#000",p:"2px 3px"});
T("MACD (12,26,9)   -0,04",19,662.5,{s:10,w:600});
T("STO (14,3,5)   32,67",20,762.5,{s:10,w:600});

// ---------- logo ----------
const logo=document.createElementNS("http://www.w3.org/2000/svg","svg");
logo.setAttribute("width",60);logo.setAttribute("height",50);logo.style.cssText="position:absolute;left:30px;top:765px;opacity:.85";
logo.innerHTML=[[4,3,"#3f8f3f",36],[11,3,"#5da85d",36],[18,3,"#3f8f3f",24],[25,3,"#7cc07c",36]].map(([x,y,c,h])=>`<rect x="${x}" y="${y}" width="5" height="${h}" fill="${c}"/>`).join("")+
 [[33,3,"#f0486a",36],[40,3,"#f0486a",36],[47,3,"#f0486a",14],[47,27,"#f0486a",12]].map(([x,y,c,h])=>`<rect x="${x}" y="${y}" width="5" height="${h}" fill="${c}"/>`).join("");
root.appendChild(logo);
const lg=T("PC",16,824,{s:22,w:600,c:"#444",f:"Lato,sans-serif"});
T("Bolsa",43,824,{s:22,w:300,c:"#666",f:"Lato,sans-serif"});

// ---------- header ----------
T("GRF",11,20,{s:22,w:600,f:"Noto Sans,sans-serif"});
T("10,8900",405,19,{s:24,w:500,c:TXT_GREEN,f:"Noto Sans,sans-serif"});
T("3,36%",637,19,{s:20,w:500,c:TXT_GREEN,f:"Noto Sans,sans-serif"});
T("(0,3550)",700,19,{s:12,w:600,c:TXT_GREEN});
T("19:40:01",1299,19,{s:16,w:500,a:"end",f:"Noto Sans,sans-serif"});
T("VOL:",2,47.5,{s:11,c:"#777"});
T("EUR:",2,65.5,{s:11,c:"#777"});
T("1.281.358",119,47.5,{s:11.5,a:"end",w:500});
T("13.953.988",119,65.5,{s:11.5,a:"end"});
B(541,40,149,28,"#fafafa",{borderRadius:"3px"});
B(693,40,149,28,"#fafafa",{borderRadius:"3px"});
B(545,52,44,13,"#fff");B(592,52,44,13,"#fff");B(645,52,44,13,"#fff");
B(697,52,44,13,"#fff");B(744,52,44,13,"#fff");B(792,52,46,13,"#fff");
T("VENTA",615,46.5,{s:10.5,a:"middle"});
T("COMPRA",767,46.5,{s:10.5,a:"middle"});
T("582",587,59.5,{s:11.5,a:"end"});
T("10,8950",594,59.5,{s:11.5,c:TXT_GREEN});
T("0,04%",685,59.5,{s:11.5,a:"end",c:TXT_GREEN});
T("1.304",739,59.5,{s:11.5,a:"end"});
T("10,8600",746,59.5,{s:11.5,c:TXT_RED});
T("-0,27%",836,59.5,{s:11.5,a:"end",c:TXT_RED});
T("MAX:",1177,47.5,{s:11.5,c:"#777"});
T("MIN:",1177,65.5,{s:11.5,c:"#777"});
T("10,9500",1211,47.5,{s:11.5,c:TXT_GREEN});
T("10,6550",1211,65.5,{s:11.5,c:TXT_GREEN});
T("3,93%",1297,47.5,{s:11.5,a:"end",c:TXT_GREEN});
T("1,13%",1297,65.5,{s:11.5,a:"end",c:TXT_GREEN});
B(1226,82,76,36,"#0078a3",{borderRadius:"3px"});
T("COMPARTIR",1264,93,{s:10.5,w:700,c:"#fff",a:"middle"});
T("GUARDAR",1264,106,{s:10.5,w:700,c:"#fff",a:"middle"});

// ---------- toolbar ----------
const tb=document.createElementNS("http://www.w3.org/2000/svg","svg");
tb.setAttribute("width",350);tb.setAttribute("height",30);tb.style.cssText="position:absolute;left:0;top:83px";
const caret=x=>`<path d="M${x-4},14 h8 l-4,4 z" fill="#777"/>`;
tb.innerHTML=`<rect x="8" y="3" width="22" height="22" rx="2" fill="#fff" stroke="#333" stroke-width="1.5"/><line x1="15" y1="3" x2="15" y2="25" stroke="#333" stroke-width="1.5"/><path d="M20,10 l5,4 l-5,4 z" fill="#333"/>`+
 [84,147,210,273,336].map(caret).join("")+
 `<g stroke="#555" stroke-width="1"><line x1="115" y1="10" x2="115" y2="20"/><line x1="120" y1="6" x2="120" y2="16"/><line x1="125" y1="8" x2="125" y2="19"/></g><g fill="#333"><rect x="113.5" y="12" width="3" height="5"/><rect x="118.5" y="8" width="3" height="5"/><rect x="123.5" y="10" width="3" height="6"/></g>`+
 `<circle cx="183" cy="15" r="6.5" fill="none" stroke="#444" stroke-width="3.5" stroke-dasharray="3,2"/><circle cx="183" cy="15" r="4" fill="#fff" stroke="#444" stroke-width="1.5"/>`+
 `<path d="M241,9 h6 M244,6 v6" stroke="#333" stroke-width="1.5"/><path d="M239,20 l4,-4 l4,4 l4,-4 l4,4" fill="none" stroke="#888"/><path d="M239,23 l4,-3 l4,3 l4,-3 l4,3" fill="none" stroke="#aaa"/>`+
 `<path d="M304,22 l12,-12 l3,3 l-12,12 z" fill="#555"/><path d="M307,14 l5,-5" stroke="#aaa" stroke-width="2"/>`;
root.appendChild(tb);
T("D",52,97,{s:13,w:700});

// ---------- bottom bar ----------
B(2,857,59,30,"#d9553f",{borderRadius:"3px"});
T("CONFG.",31.5,872,{s:11.5,w:700,c:"#fff",a:"middle"});
B(66,859,39,27,"#fff",{border:"1px solid #ccc"});
B(106,859,23,27,"#fff",{border:"1px solid #ccc"});
T("BI",86,872,{s:12,w:700,a:"middle"});
const caret2=document.createElementNS("http://www.w3.org/2000/svg","svg");
caret2.setAttribute("width",12);caret2.setAttribute("height",8);caret2.style.cssText="position:absolute;left:112px;top:868px";
caret2.innerHTML='<path d="M1,1 h9 l-4.5,5 z" fill="#888"/>';root.appendChild(caret2);
const periodLabels=["All","10A","5A","2A","1A","A","6M","60D","30D","15D","5D","2D","1D"];
periodLabels.forEach((p,i)=>{
  T(p,152+i*32,872,{s:12.5,a:"middle",f:"Noto Sans,sans-serif"});
  B(168.4+i*32,857,1,28,"#c9bfc4");
});
T("1.281.358",1304,873,{s:17,w:700,a:"end",f:"Noto Sans,sans-serif"});
</script>
</body>
</html>
